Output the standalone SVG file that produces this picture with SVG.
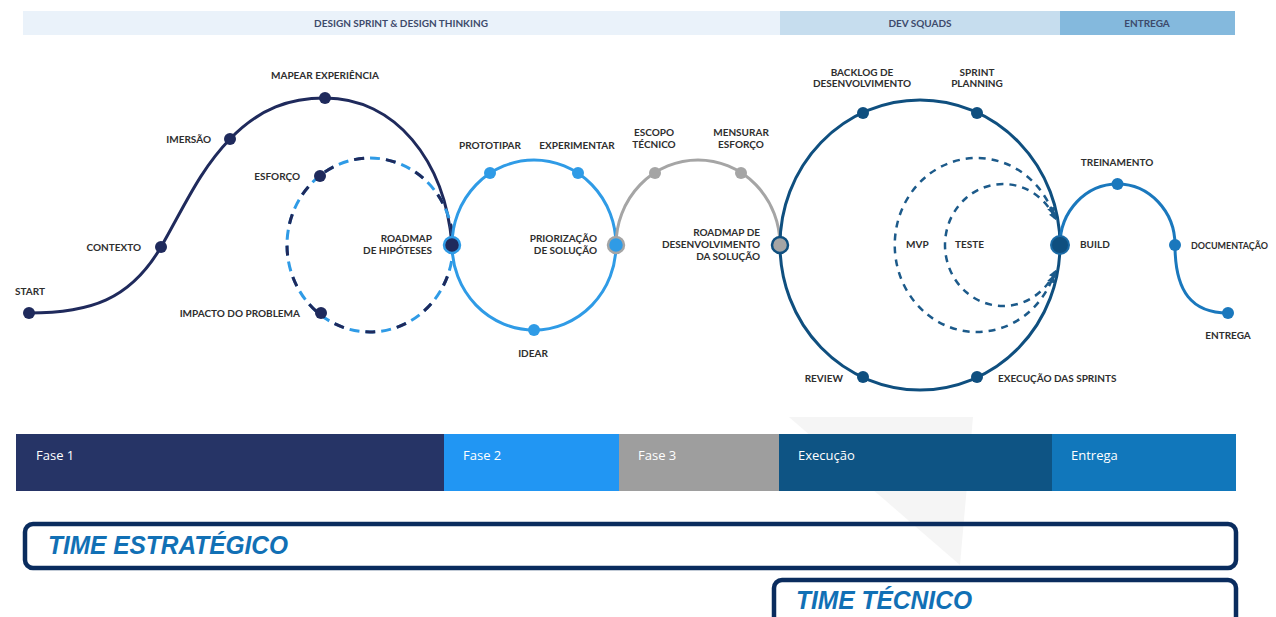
<svg xmlns="http://www.w3.org/2000/svg" width="1276" height="617" viewBox="0 0 1276 617">
<defs>
<style>
.lbl{font-family:Lato,"Liberation Sans",sans-serif;font-weight:700;font-size:10px;fill:#2e2e2e}
.band{font-family:Lato,"Liberation Sans",sans-serif;font-weight:700;font-size:10px;fill:#3d4a6b;text-anchor:middle}
.bar{font-family:"Open Sans","Liberation Sans",sans-serif;font-size:13px;fill:#ffffff}
.team{font-family:"Liberation Sans",Arial,sans-serif;font-weight:700;font-style:italic;font-size:26px;fill:#1170b5}
.n1{fill:#1f2a5c}.n2{fill:#2f9be6}.n3{fill:#a5a5a5}.n4{fill:#0f4f7f}.n5{fill:#1a78bd}
.ln{fill:none;stroke-width:3}
.dash{fill:none;stroke:#1c5a8a;stroke-width:2.5;stroke-dasharray:7 6}
</style>
<marker id="arr" viewBox="0 0 10 10" refX="7" refY="5" markerWidth="8" markerHeight="8" markerUnits="userSpaceOnUse" orient="auto-start-reverse">
<path d="M0,0 L10,5 L0,10 z" fill="#1c5a8a"/>
</marker>
</defs>
<rect width="1276" height="617" fill="#ffffff"/>
<!-- watermark -->
<polygon points="789,417 973,417 960,565" fill="#f5f5f5"/>
<!-- top band -->
<g id="top-band">
<rect x="23" y="11" width="757" height="24" fill="#eaf2fa"/>
<rect x="780" y="11" width="280" height="24" fill="#c6ddee"/>
<rect x="1060" y="11" width="175" height="24" fill="#84b9dd"/>
<text class="band" x="401" y="26.5">DESIGN SPRINT &amp; DESIGN THINKING</text>
<text class="band" x="920" y="26.5">DEV SQUADS</text>
<text class="band" x="1147" y="26.5">ENTREGA</text>
</g>
<g id="connectors">
<path class="ln" stroke="#1f2a5c" d="M29,313 C90,313 130,300 161,247 C185,205 200,170 230,139 C260,108 290,98 325,98 C395,98 445,160 452,245"/>
<ellipse cx="370" cy="245" rx="83" ry="87" fill="none" stroke="#2f9be6" stroke-width="3" stroke-dasharray="10 6"/>
<ellipse cx="370" cy="245" rx="83" ry="87" fill="none" stroke="#1f2a5c" stroke-width="3" stroke-dasharray="10 22"/>
<ellipse class="ln" stroke="#2f9be6" cx="534" cy="245" rx="82" ry="85"/>
<path class="ln" stroke="#a5a5a5" d="M616,245 A82,85 0 0 1 780,245"/>
<ellipse class="ln" stroke="#0f4f7f" cx="920" cy="245" rx="140" ry="145"/>
<path class="dash" d="M1053,213 A82,87 0 1 0 1053,277" marker-start="url(#arr)" marker-end="url(#arr)"/>
<path class="dash" d="M1055,218 A58,61 0 1 0 1055,272" marker-start="url(#arr)" marker-end="url(#arr)"/>
<path class="ln" stroke="#1a78bd" d="M1060,245 A57.5,61 0 0 1 1175,245 C1175,292 1192,313 1228,313"/>
</g>
<g id="start"><circle class="n1" cx="29" cy="313" r="6"/><text class="lbl" x="30" y="294.5" text-anchor="middle">START</text></g>
<g id="contexto"><circle class="n1" cx="161" cy="247" r="6"/><text class="lbl" x="141" y="250.5" text-anchor="end">CONTEXTO</text></g>
<g id="imersao"><circle class="n1" cx="230" cy="139" r="6"/><text class="lbl" x="211" y="142.5" text-anchor="end">IMERSÃO</text></g>
<g id="mapear"><circle class="n1" cx="325" cy="98" r="6"/><text class="lbl" x="325" y="78.5" text-anchor="middle">MAPEAR EXPERIÊNCIA</text></g>
<g id="esforco"><circle class="n1" cx="320" cy="176" r="6"/><text class="lbl" x="300" y="179.5" text-anchor="end">ESFORÇO</text></g>
<g id="impacto"><circle class="n1" cx="321" cy="313" r="6"/><text class="lbl" x="300" y="316.5" text-anchor="end">IMPACTO DO PROBLEMA</text></g>
<g id="roadmap-hipoteses"><circle cx="452" cy="245" r="8" fill="#1f2a5c" stroke="#2f9be6" stroke-width="2.5"/><text class="lbl" x="432" y="241.5" text-anchor="end">ROADMAP</text><text class="lbl" x="432" y="253.5" text-anchor="end">DE HIPÓTESES</text></g>
<g id="prototipar"><circle class="n2" cx="490" cy="173" r="6"/><text class="lbl" x="490" y="148.5" text-anchor="middle">PROTOTIPAR</text></g>
<g id="experimentar"><circle class="n2" cx="578" cy="173" r="6"/><text class="lbl" x="577" y="148.5" text-anchor="middle">EXPERIMENTAR</text></g>
<g id="idear"><circle class="n2" cx="534" cy="330" r="6"/><text class="lbl" x="533" y="356.5" text-anchor="middle">IDEAR</text></g>
<g id="priorizacao"><circle cx="616" cy="245" r="8" fill="#2f9be6" stroke="#a5a5a5" stroke-width="2.5"/><text class="lbl" x="597" y="241.5" text-anchor="end">PRIORIZAÇÃO</text><text class="lbl" x="597" y="253.5" text-anchor="end">DE SOLUÇÃO</text></g>
<g id="escopo"><circle class="n3" cx="655" cy="173" r="6"/><text class="lbl" x="654" y="136" text-anchor="middle">ESCOPO</text><text class="lbl" x="654" y="147.5" text-anchor="middle">TÉCNICO</text></g>
<g id="mensurar"><circle class="n3" cx="741" cy="173" r="6"/><text class="lbl" x="741" y="136" text-anchor="middle">MENSURAR</text><text class="lbl" x="741" y="147.5" text-anchor="middle">ESFORÇO</text></g>
<g id="roadmap-desenvolvimento"><circle cx="780" cy="245" r="8" fill="#a5a5a5" stroke="#0f4f7f" stroke-width="2.5"/><text class="lbl" x="760" y="236" text-anchor="end">ROADMAP DE</text><text class="lbl" x="760" y="248" text-anchor="end">DESENVOLVIMENTO</text><text class="lbl" x="760" y="260" text-anchor="end">DA SOLUÇÃO</text></g>
<g id="backlog"><circle class="n4" cx="863" cy="113" r="6"/><text class="lbl" x="862" y="75.5" text-anchor="middle">BACKLOG DE</text><text class="lbl" x="862" y="87" text-anchor="middle">DESENVOLVIMENTO</text></g>
<g id="sprint-planning"><circle class="n4" cx="977" cy="113" r="6"/><text class="lbl" x="977" y="75.5" text-anchor="middle">SPRINT</text><text class="lbl" x="977" y="87" text-anchor="middle">PLANNING</text></g>
<g id="review"><circle class="n4" cx="863" cy="377" r="6"/><text class="lbl" x="843" y="382" text-anchor="end">REVIEW</text></g>
<g id="execucao-sprints"><circle class="n4" cx="977" cy="377" r="6"/><text class="lbl" x="998" y="382" text-anchor="start">EXECUÇÃO DAS SPRINTS</text></g>
<g id="mvp"><text class="lbl" x="906" y="247.5">MVP</text></g>
<g id="teste"><text class="lbl" x="955" y="247.5">TESTE</text></g>
<g id="build"><circle cx="1060" cy="245" r="9" fill="#0f4f7f" stroke="#1a6aa5" stroke-width="2"/><text class="lbl" x="1080" y="247.5">BUILD</text></g>
<g id="treinamento"><circle class="n5" cx="1117.5" cy="184" r="6"/><text class="lbl" x="1117" y="165.5" text-anchor="middle">TREINAMENTO</text></g>
<g id="documentacao"><circle class="n5" cx="1175" cy="245" r="6"/><text class="lbl" x="1191" y="248.5" textLength="77" lengthAdjust="spacingAndGlyphs">DOCUMENTAÇÃO</text></g>
<g id="entrega-node"><circle class="n5" cx="1228" cy="313" r="6"/><text class="lbl" x="1228" y="338.5" text-anchor="middle">ENTREGA</text></g>
<g id="phase-bars">
<rect x="16" y="434" width="428" height="57" fill="#263466"/>
<rect x="444" y="434" width="175" height="57" fill="#2196f3"/>
<rect x="619" y="434" width="160" height="57" fill="#9e9e9e"/>
<rect x="779" y="434" width="273" height="57" fill="#0e5484"/>
<rect x="1052" y="434" width="184" height="57" fill="#1177bb"/>
<text class="bar" x="36" y="460">Fase 1</text>
<text class="bar" x="463" y="460">Fase 2</text>
<text class="bar" x="638" y="460">Fase 3</text>
<text class="bar" x="798" y="460">Execução</text>
<text class="bar" x="1071" y="460">Entrega</text>
</g>
<g id="time-estrategico">
<rect x="25" y="524" width="1211" height="44" rx="8" fill="none" stroke="#0a2c5e" stroke-width="4.5"/>
<text class="team" x="48" y="554" textLength="240" lengthAdjust="spacingAndGlyphs">TIME ESTRATÉGICO</text>
</g>
<g id="time-tecnico">
<rect x="774" y="580" width="462" height="60" rx="8" fill="none" stroke="#0a2c5e" stroke-width="4.5"/>
<text class="team" x="796" y="609" textLength="176" lengthAdjust="spacingAndGlyphs">TIME TÉCNICO</text>
</g>
</svg>
